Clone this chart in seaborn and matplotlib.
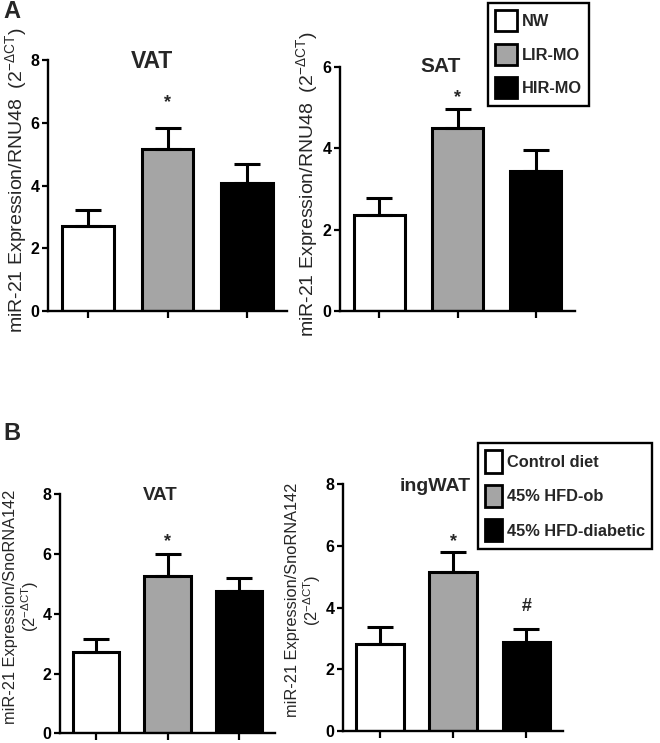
import numpy as np
import pandas as pd
import matplotlib
matplotlib.use("Agg")
import matplotlib.pyplot as plt
from matplotlib.patches import Patch
import seaborn as sns

# ---------------- data ----------------
groups_A = ["NW", "LIR-MO", "HIR-MO"]
vat_A_mean = [2.71, 5.15, 4.07]
vat_A_sem = [0.51, 0.67, 0.61]
sat_A_mean = [2.35, 4.50, 3.43]
sat_A_sem = [0.43, 0.46, 0.52]

groups_B = ["Control diet", "45% HFD-ob", "45% HFD-diabetic"]
vat_B_mean = [2.71, 5.25, 4.77]
vat_B_sem = [0.44, 0.76, 0.43]
ing_B_mean = [2.82, 5.14, 2.87]
ing_B_sem = [0.54, 0.65, 0.43]

colors = ["#ffffff", "#a5a5a5", "#000000"]

sns.set_theme(style="ticks")
plt.rcParams["font.family"] = ["Liberation Sans", "DejaVu Sans"]
plt.rcParams["mathtext.fontset"] = "custom"
plt.rcParams["mathtext.rm"] = "Liberation Sans"
plt.rcParams["mathtext.it"] = "Liberation Sans"
plt.rcParams["mathtext.bf"] = "Liberation Sans:bold"

W, H = 660, 743
fig = plt.figure(figsize=(W / 100, H / 100), dpi=100)


def px_axes(x0, x1, ytop, ybot):
    return fig.add_axes([x0 / W, 1 - ybot / H, (x1 - x0) / W, (ybot - ytop) / H])


def draw(ax, groups, means, sems, ymax, title, tsize, tpos, ylabel, lsize, lpos, marks):
    df = pd.DataFrame({"group": groups, "value": means})
    sns.barplot(data=df, x="group", y="value", hue="group", palette=colors,
                legend=False, width=0.65, edgecolor="black", linewidth=2.2,
                errorbar=None, ax=ax)
    ax.errorbar(np.arange(len(groups)), means, yerr=[np.zeros(len(sems)), sems],
                fmt="none", ecolor="black", elinewidth=2.2, capsize=9.5,
                capthick=2.2, zorder=3)
    ax.set_xlim(-0.5, 2.5)
    ax.set_ylim(0, ymax)
    ax.set_yticks(np.arange(0, ymax + 1, 2))
    ax.set_xticks(range(3))
    ax.set_xticklabels([])
    ax.set_xlabel("")
    for lbl in ax.get_yticklabels():
        lbl.set_fontweight("bold")
    ax.tick_params(axis="y", labelsize=11.5, width=1.6, length=4, pad=2, colors="black")
    ax.tick_params(axis="x", width=1.6, length=5, colors="black")
    sns.despine(ax=ax)
    for s in ("left", "bottom"):
        ax.spines[s].set_linewidth(1.7)
        ax.spines[s].set_color("black")
    ax.set_ylabel(ylabel, fontsize=lsize, ha="center", multialignment="center",
                  linespacing=1.05)
    ax.yaxis.set_label_coords(*lpos)
    ax.text(tpos[0], tpos[1], title, transform=ax.transAxes, ha="center",
            va="center", fontsize=tsize, fontweight="bold")
    for xi, yv, s in marks:
        ax.text(xi, yv, s, ha="center", va="center", fontsize=13, fontweight="bold")


sup = r"(2$^{\mathregular{-\Delta CT}}$)"

axA1 = px_axes(48, 287, 60, 311)
draw(axA1, groups_A, vat_A_mean, vat_A_sem, 8, "VAT", 16.5, (0.435, 0.996),
     "miR-21 Expression/RNU48  " + sup, 14, (-0.079, 0.52), [(1, 6.63, "*")])

axA2 = px_axes(340, 575, 66.7, 311)
draw(axA2, groups_A, sat_A_mean, sat_A_sem, 6, "SAT", 15, (0.43, 0.999),
     "miR-21 Expression/RNU48  " + sup, 14, (-0.085, 0.52), [(1, 5.23, "*")])

axB1 = px_axes(60, 275, 494.3, 733.3)
draw(axB1, groups_B, vat_B_mean, vat_B_sem, 8, "VAT", 13.5, (0.465, 0.997),
     "miR-21 Expression/SnoRNA142\n" + sup, 11.8, (-0.09, 0.53), [(1, 6.43, "*")])

axB2 = px_axes(343, 563, 484.3, 731)
draw(axB2, groups_B, ing_B_mean, ing_B_sem, 8, "ingWAT", 14, (0.418, 0.993),
     "miR-21 Expression/SnoRNA142\n" + sup, 11.8, (-0.092, 0.53),
     [(1, 6.13, "*"), (2, 4.03, "#")])

fig.text(12 / W, 1 - 12 / H, "A", ha="center", va="center", fontsize=17, fontweight="bold")
fig.text(12 / W, 1 - 433 / H, "B", ha="center", va="center", fontsize=17, fontweight="bold")


def make_legend(labels, anchor, hl, hh):
    handles = [Patch(facecolor=c, edgecolor="black", linewidth=2.0) for c in colors]
    leg = fig.legend(handles, labels, loc="upper left", bbox_to_anchor=anchor,
                     bbox_transform=fig.transFigure, borderaxespad=0,
                     prop={"weight": "bold", "size": 11.8}, handlelength=hl,
                     handleheight=hh, handletextpad=0.3, labelspacing=0.75,
                     fancybox=False, framealpha=1, edgecolor="black",
                     borderpad=0.45)
    leg.get_frame().set_linewidth(1.7)
    return leg


make_legend(groups_A, (488 / W, 1 - 3 / H), 1.3, 1.6)
make_legend(groups_B, (478 / W, 1 - 443 / H), 1.0, 1.7)

fig.savefig("out.png", dpi=100)
